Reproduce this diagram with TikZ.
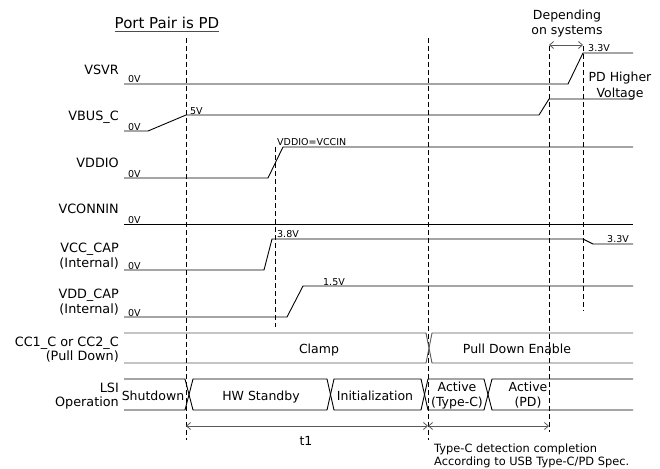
\documentclass[tikz,border=0pt]{standalone}
\usepackage{fontspec}
\setmainfont{DejaVu Sans}
\usetikzlibrary{arrows.meta}
\begin{document}
\begin{tikzpicture}[x=1pt,y=-1pt,
  sig/.style={line width=0.9pt, draw=black},
  busline/.style={line width=0.9pt, draw=black!65},
  lsiline/.style={line width=0.9pt, draw=black},
  guide/.style={line width=0.8pt, draw=black, dash pattern=on 5pt off 3pt},
  lbl/.style={font=\fontsize{12.8}{15}\selectfont, anchor=base east, inner sep=0pt},
  val/.style={font=\fontsize{9.5}{10}\selectfont, anchor=base west, inner sep=0pt},
  txt/.style={font=\fontsize{12.5}{15}\selectfont, anchor=base, inner sep=0pt},
  note/.style={font=\fontsize{11.4}{13}\selectfont, anchor=base west, inner sep=0pt},
  dim/.style={line width=0.8pt, draw=black!65, {Straight Barb[length=4pt,width=7pt]}-{Straight Barb[length=4pt,width=7pt]}}
]
\useasboundingbox (0,0) rectangle (660,468);

% title
\node[font=\fontsize{15}{18}\selectfont, anchor=base, inner sep=0pt] (title) at (167,29) {Port Pair is PD};
\draw[line width=0.8pt, draw=black!70] ([yshift=-2.5pt]title.base west) -- ([yshift=-2.5pt]title.base east);

% guides
\draw[guide] (186,38) -- (186,440);
\draw[guide] (275,147) -- (275,327);
\draw[guide] (428,38) -- (428,440);
\draw[guide] (549,46) -- (549,432);
\draw[guide] (583,46) -- (583,311);

% row labels
\node[lbl] (lvsvr) at (119,75) {VSVR};
\node[lbl] (lvbus) at (119,120) {VBUS\_C};
\node[lbl] (lvddio) at (119,167) {VDDIO};
\node[lbl] (lvconn) at (119,213) {VCONNIN};
\node[lbl] (lvcc) at (119,252) {VCC\_CAP};
\node[lbl] (lvcci) at (119,267) {(Internal)};
\node[lbl] (lvdd) at (119,298) {VDD\_CAP};
\node[lbl] (lvddi) at (119,313) {(Internal)};
\node[lbl] (lcc) at (119,346) {CC1\_C or CC2\_C};
\node[lbl] (lccp) at (119,360) {(Pull Down)};
\node[lbl] (llsi) at (119,392) {LSI};
\node[lbl] (lop) at (119,406) {Operation};

% zero-volt marks
\node[val] (z1) at (128,83) {0V};
\node[val] (z2) at (128,130) {0V};
\node[val] (z3) at (128,177) {0V};
\node[val] (z4) at (128,223) {0V};
\node[val] (z5) at (128,269) {0V};
\node[val] (z6) at (128,316) {0V};

% signals
\draw[sig] (124,84) -- (568,84) -- (583,53) -- (633,53);
\draw[sig] (124,131) -- (148,131) -- (186,115) -- (539,115) -- (549,99) -- (633,99);
\draw[sig] (124,178) -- (268,178) -- (283,147) -- (633,147);
\draw[sig] (124,224) -- (633,224);
\draw[sig] (124,270) -- (264,270) -- (272,239) -- (583,239) -- (593,244) -- (633,244);
\draw[sig] (124,317) -- (287,317) -- (303,286) -- (633,286);

% value labels
\node[val] (v5) at (190,114) {5V};
\node[val] (vio) at (277,145) {VDDIO=VCCIN};
\node[val] (v38) at (277,237) {3.8V};
\node[val] (v15) at (323,285.5) {1.5V};
\node[val] (v33a) at (588,52) {3.3V};
\node[val] (v33b) at (607,242) {3.3V};

% CC row
\draw[busline] (124,333) -- (426,333) -- (432,363) -- (633,363);
\draw[busline] (124,363) -- (426,363) -- (432,333) -- (633,333);
\node[txt] (clamp) at (319,353) {Clamp};
\node[txt] (pde) at (517,353) {Pull Down Enable};

% LSI row
\draw[lsiline] (124,379) -- (185,379) -- (193,410) -- (327,410) -- (334,379) -- (421,379) -- (428,410) -- (484,410) -- (492,379) -- (633,379);
\draw[lsiline] (124,410) -- (185,410) -- (193,379) -- (327,379) -- (334,410) -- (421,410) -- (428,379) -- (484,379) -- (492,410) -- (633,410);
\node[txt] (sd) at (153,400) {Shutdown};
\node[txt] (hw) at (261,400) {HW Standby};
\node[txt] (init) at (375,400) {Initialization};
\node[txt] (act1) at (457,391.5) {Active};
\node[txt] (act1b) at (457,406) {(Type-C)};
\node[txt] (act2) at (528,391.5) {Active};
\node[txt] (act2b) at (528,406) {(PD)};

% timing arrows
\coordinate (ta) at (186,426);
\coordinate (tb) at (428,426);
\coordinate (tc) at (549,426);
\draw[dim] (ta) -- (tb);
\draw[dim] (tb) -- (tc);
\node[txt] (t1) at (306,445) {t1};
\node[note] (n1) at (434,452) {Type-C detection completion};
\node[note] (n2) at (434,465) {According to USB Type-C/PD Spec.};

\coordinate (da) at (549,45);
\coordinate (db) at (583,45);
\draw[dim] (da) -- (db);
\node[txt] (dep1) at (567,20) {Depending};
\node[txt] (dep2) at (567,35) {on systems};
\node[txt] (pdh1) at (620,82) {PD Higher};
\node[txt] (pdh2) at (620,97) {Voltage};
\end{tikzpicture}
\end{document}
